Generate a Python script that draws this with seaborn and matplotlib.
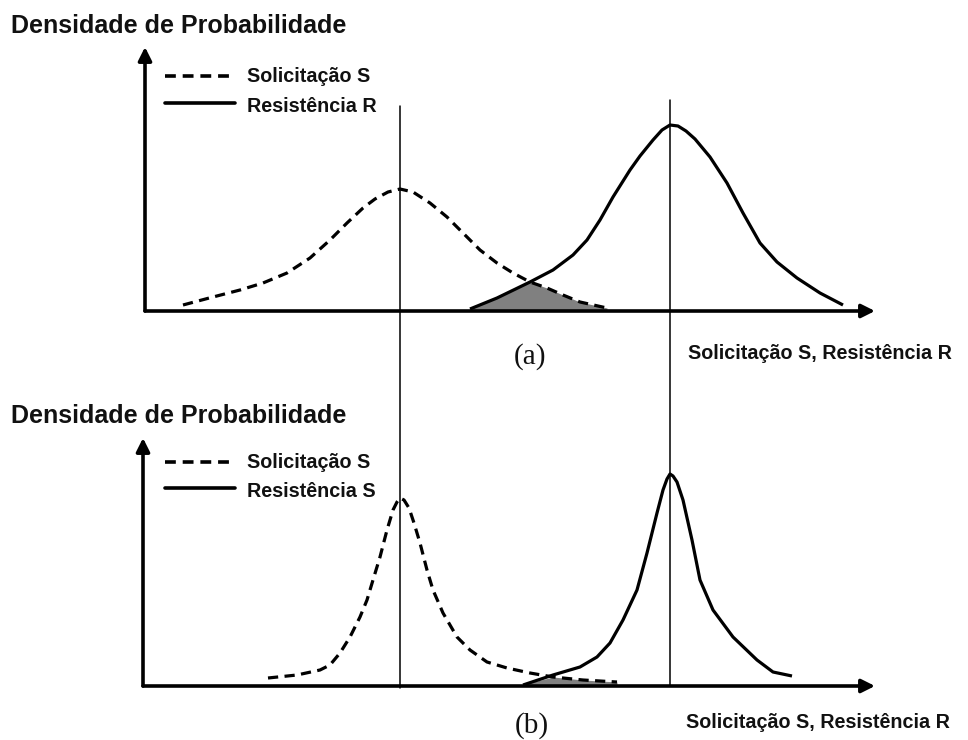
import numpy as np
import matplotlib
matplotlib.use("Agg")
import matplotlib.pyplot as plt
import seaborn as sns

# ---- values (x = load/resistance, y = density) ----
# (a) wide distributions
s_a_x = [183, 213, 240, 263, 287, 310, 330, 347, 363, 375, 388, 400, 413, 430, 447,
         463, 480, 497, 513, 530, 547, 563, 580, 607]
s_a_y = [6, 14, 21, 28, 38, 53, 71, 88, 103, 112, 119, 122, 119, 108, 94,
         78, 61, 48, 38, 29, 23, 16, 9, 3]
r_a_x = [470, 497, 530, 553, 573, 587, 600, 613, 630, 640, 653, 662, 670, 678,
         686, 695, 710, 727, 743, 760, 777, 797, 820, 843]
r_a_y = [2, 13, 29, 41, 56, 71, 91, 114, 141, 155, 171, 181, 186, 185,
         180, 172, 154, 128, 98, 68, 49, 33, 18, 6]

# (b) narrow distributions
s_b_x = [268, 297, 320, 330, 340, 350, 360, 367, 373, 380, 387, 393, 397, 400, 404,
         409, 414, 420, 427, 433, 443, 457, 470, 487, 507, 530, 553, 583, 617]
s_b_y = [8, 11, 16, 21, 33, 49, 69, 86, 106, 129, 156, 176, 184, 188, 186,
         178, 163, 143, 116, 96, 73, 49, 36, 24, 18, 13, 9, 6, 4]
r_b_x = [523, 553, 580, 597, 610, 623, 637, 647, 657, 663, 667, 670, 673, 677, 683,
         692, 700, 713, 733, 757, 773, 792]
r_b_y = [1, 11, 19, 29, 43, 66, 96, 133, 173, 196, 207, 212, 210, 204, 186,
         146, 106, 76, 49, 26, 14, 10]

mean_s = 400
mean_r = 670

axis_title = "Densidade de Probabilidade"
x_title = "Solicitação S, Resistência R"
legend_a = ["Solicitação S", "Resistência R"]
legend_b = ["Solicitação S", "Resistência S"]
panel_tags = ["(a)", "(b)"]

sns.set_theme(style="white")
plt.rcParams["font.family"] = ["Liberation Sans", "DejaVu Sans"]

W, H = 968, 740
fig = plt.figure(figsize=(W / 100, H / 100), dpi=100)
fig.patch.set_facecolor("white")

INK = "#111111"
DASH = (0, (3.2, 2.0))
CURVE = dict(color="black", lw=2.3, solid_joinstyle="round", dash_joinstyle="round",
             solid_capstyle="butt", sort=False, estimator=None, zorder=3)


def px_axes(left, right, base, top):
    return fig.add_axes([left / W, (H - base) / H, (right - left) / W, (base - top) / H])


def draw_panel(ax, sx, sy, rx, ry, x0, x1, ytop):
    ax.set_xlim(x0, x1)
    ax.set_ylim(0, ytop)
    ax.set_axis_off()
    ax.patch.set_alpha(0)
    # overlap region under both densities
    lo, hi = max(min(sx), min(rx)), min(max(sx), max(rx))
    xs = np.unique(np.concatenate([[lo, hi], np.array(sx, float), np.array(rx, float)]))
    xs = xs[(xs >= lo) & (xs <= hi)]
    ys = np.minimum(np.interp(xs, sx, sy), np.interp(xs, rx, ry))
    ax.fill_between(xs, 0, ys, color="#808080", lw=0, zorder=1)
    sns.lineplot(x=sx, y=sy, ax=ax, linestyle=DASH, **CURVE)
    sns.lineplot(x=rx, y=ry, ax=ax, **CURVE)
    arrow = dict(arrowstyle="-|>", lw=2.6, color="black", mutation_scale=20,
                 shrinkA=0, shrinkB=0)
    ax.annotate("", xy=(1, 0), xytext=(0, 0), xycoords="axes fraction",
                textcoords="axes fraction", arrowprops=arrow, zorder=5)
    ax.annotate("", xy=(0, 1), xytext=(0, 0), xycoords="axes fraction",
                textcoords="axes fraction", arrowprops=arrow, zorder=5)


ax_a = px_axes(145, 875, 311, 47)
draw_panel(ax_a, s_a_x, s_a_y, r_a_x, r_a_y, 145, 875, 264)

ax_b = px_axes(143, 875, 686, 438)
draw_panel(ax_b, s_b_x, s_b_y, r_b_x, r_b_y, 143, 875, 248)

# overlay in figure pixels for shared guides, legends and labels
ov = fig.add_axes([0, 0, 1, 1])
ov.set_xlim(0, W)
ov.set_ylim(H, 0)
ov.set_axis_off()
ov.patch.set_alpha(0)

ov.plot([mean_s, mean_s], [106, 688], color="black", lw=1.1)
ov.plot([mean_r, mean_r], [100, 686], color="black", lw=1.1)

label_kw = dict(fontsize=14.2, fontweight="bold", color=INK, va="baseline", ha="left")
for (y_dash, y_solid, names) in [(76, 103, legend_a), (462, 488, legend_b)]:
    ov.plot([165, 232], [y_dash, y_dash], color="black", lw=2.6, linestyle=(0, (3.0, 1.9)))
    ov.plot([165, 235], [y_solid, y_solid], color="black", lw=2.6)
    ov.text(247, y_dash + 6, names[0], **label_kw)
    ov.text(247, y_solid + 9, names[1], **label_kw)

ov.text(11, 33, axis_title, fontsize=18, fontweight="bold", color=INK, va="baseline")
ov.text(11, 423, axis_title, fontsize=18, fontweight="bold", color=INK, va="baseline")

ov.text(688, 359, x_title, **label_kw)
ov.text(686, 728, x_title, **label_kw)

serif = dict(fontsize=21, color=INK, ha="center", va="baseline",
             family=["Liberation Serif", "DejaVu Serif"])
ov.text(530, 364, panel_tags[0], **serif)
ov.text(532, 733, panel_tags[1], **serif)

fig.savefig("out.png", dpi=100, facecolor="white")
